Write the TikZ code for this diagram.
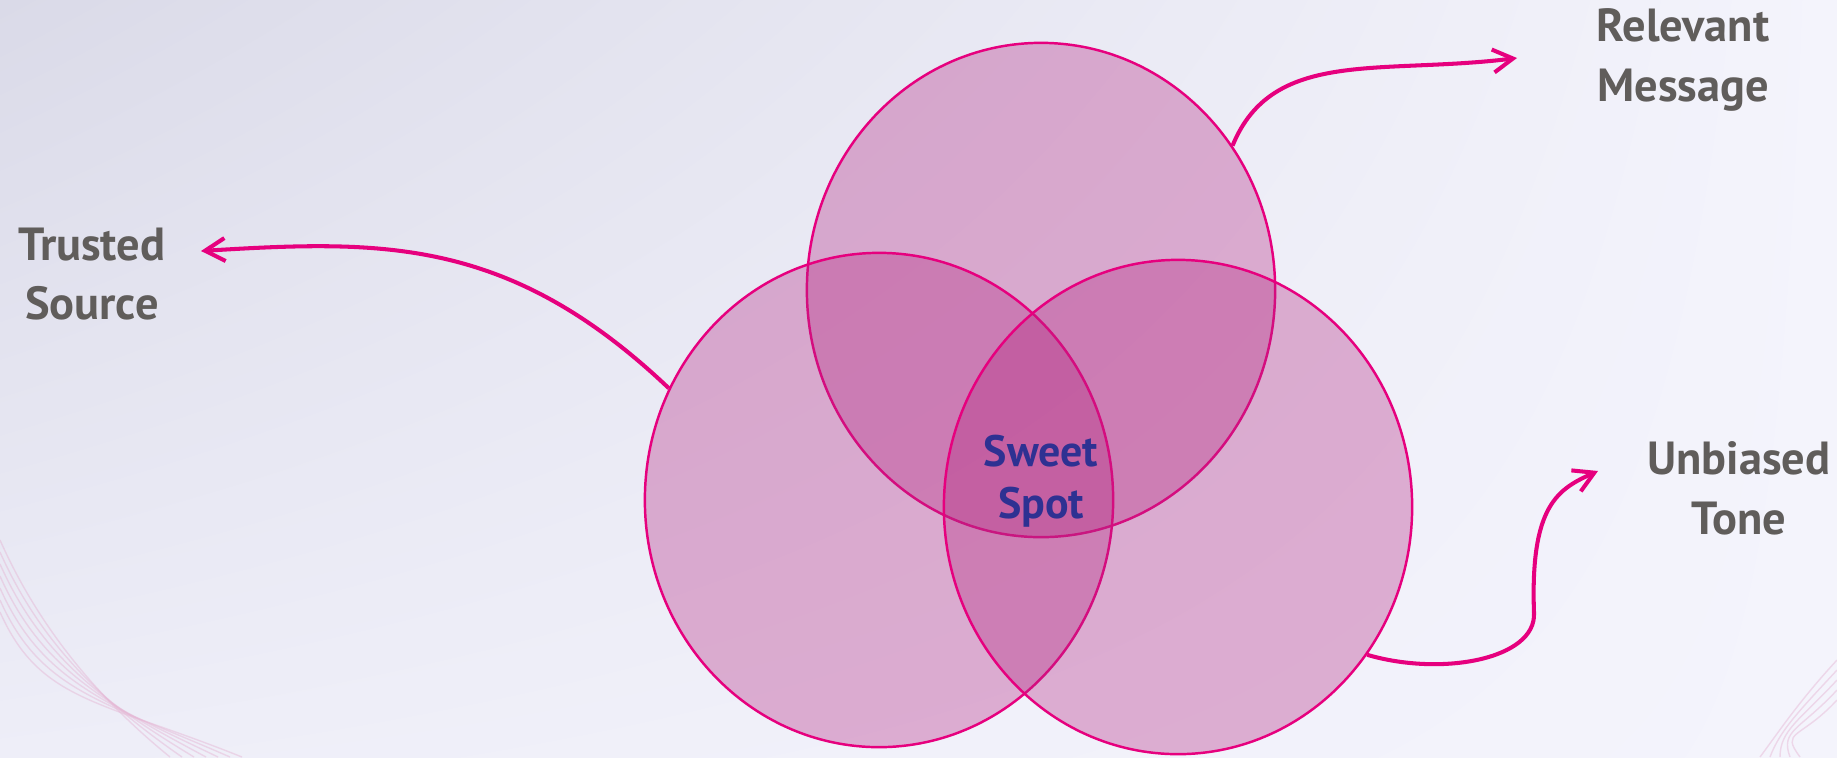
\documentclass[tikz,border=0pt]{standalone}
\usepackage{fontspec}
\setmainfont{PT Sans}
\usetikzlibrary{arrows.meta,positioning,shapes.geometric,shadings}
\definecolor{vennedge}{RGB}{230,0,126}
\definecolor{vennfill}{RGB}{180,40,130}
\definecolor{labelgrey}{RGB}{96,93,91}
\definecolor{spotblue}{RGB}{46,49,146}
\definecolor{bgpale}{RGB}{244,244,252}
\definecolor{bgmid}{RGB}{238,238,248}
\definecolor{bgshade}{RGB}{218,218,232}
\tikzset{
  vennset/.style={
    ellipse,
    draw=vennedge,
    line width=0.7pt,
    fill=vennfill,
    fill opacity=0.34,
    minimum width=4.68cm,
    minimum height=4.94cm,
    inner sep=0pt
  },
  vennlabel/.style={
    align=center,
    text=labelgrey,
    font=\bfseries\fontsize{13.2}{17}\selectfont
  },
  spotlabel/.style={
    align=center,
    text=spotblue,
    font=\bfseries\fontsize{12.5}{14.8}\selectfont
  },
  vennarrow/.style={
    -{Straight Barb[length=2mm,width=2.3mm]},
    line width=1.15pt,
    draw=vennedge
  },
  swirl/.style={
    draw=vennfill!35,
    line width=0.4pt,
    opacity=0.45
  }
}

\begin{document}
\begin{tikzpicture}[x=0.01cm, y=-0.01cm]
\useasboundingbox (0,0) rectangle (1837,757);
\shade[upper left=bgshade, upper right=bgpale, lower left=bgmid, lower right=bgpale] (0,0) rectangle (1837,757);
% faint background swirls
\foreach \s in {0,12,...,72} {
  \draw[swirl] (0,540+\s) .. controls (40,630+\s) and (100,700) .. (170+\s,757);
}
\foreach \s in {0,10,...,40} {
  \draw[swirl] (1837,660+\s) .. controls (1800,700+\s) and (1780,730) .. (1760+\s,757);
}

% the three sets
\node[vennset] (relevant) at (1041,290) {};
\node[vennset] (trusted) at (879,500) {};
\node[vennset] (unbiased) at (1178,507) {};

% labels
\node[spotlabel] (spot) at (1041,481) {Sweet\\Spot};
\node[vennlabel] (srclabel) at (92,274) {Trusted\\Source};
\node[vennlabel] (msglabel) at (1683,60) {Relevant\\Message};
\node[vennlabel] (tonelabel) at (1739,488) {Unbiased\\Tone};

\coordinate (srctip) at (201,251);
\coordinate (msgtip) at (1517,58);
\coordinate (tonebend) at (1534,613);
\coordinate (tonetip) at (1598,471);

\draw[vennarrow] (trusted.152) .. controls +(-160,-152) and +(180,-11) .. (srctip);
\draw[vennarrow] (relevant.37) .. controls +(40,-98) and +(-137,17) .. (msgtip);
\draw[vennarrow] (unbiased.-38) .. controls +(75,22) and +(2,46) .. (tonebend)
  .. controls +(-4,-108) and +(-40,18) .. (tonetip);
\end{tikzpicture}
\end{document}
